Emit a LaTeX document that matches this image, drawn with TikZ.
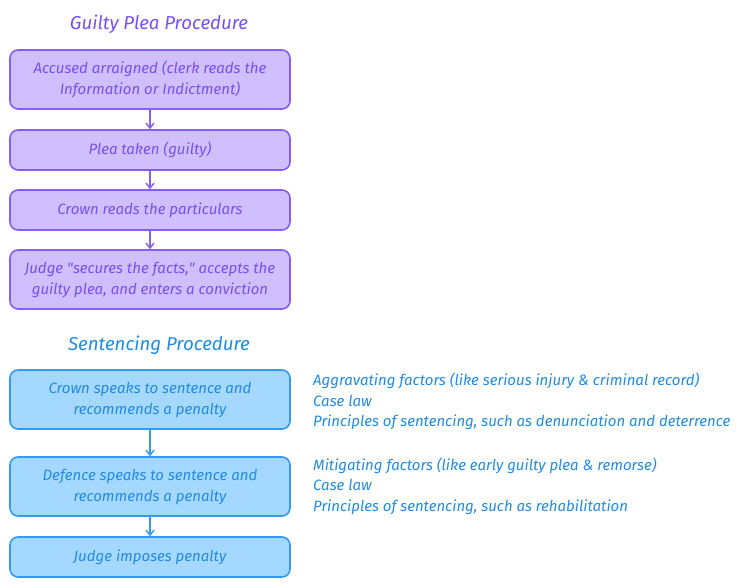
\documentclass[tikz,border=0pt]{standalone}
\usepackage{fontspec}
\setmainfont{Fira Sans}
\usetikzlibrary{arrows.meta}

\definecolor{plfill}{HTML}{D0BFFF}
\definecolor{plline}{HTML}{845EF7}
\definecolor{pltext}{HTML}{7950F2}
\definecolor{snfill}{HTML}{A5D8FF}
\definecolor{snline}{HTML}{339AF0}
\definecolor{sntext}{HTML}{228BE6}

\tikzset{
  stage/.style={draw, line width=1.6pt, rounded corners=8pt, minimum width=280pt,
    align=center, font=\itshape\fontsize{15}{21}\selectfont},
  plea/.style={stage, fill=plfill, draw=plline, text=pltext},
  sent/.style={stage, fill=snfill, draw=snline, text=sntext},
  heading/.style={font=\itshape\fontsize{18.7}{22}\selectfont},
  notes/.style={anchor=west, align=left, inner xsep=0pt, text=sntext, font=\itshape\fontsize{15}{20.5}\selectfont},
  flow/.style={-{Straight Barb[length=5pt,width=8pt]}, line width=1.4pt},
}

\begin{document}
\begin{tikzpicture}[x=1pt,y=-1pt]
  \useasboundingbox (0,0) rectangle (743,587);

  % guilty plea
  \node[heading, text=pltext] (pleatitle) at (159,24.5) {Guilty Plea Procedure};
  \node[plea, minimum height=59pt] (arraign) at (150,79.5) {Accused arraigned (clerk reads the\\Information or Indictment)};
  \node[plea, minimum height=40pt] (plea) at (150,150) {Plea taken (guilty)};
  \node[plea, minimum height=40pt] (particulars) at (150,210) {Crown reads the particulars};
  \node[plea, minimum height=59pt] (conviction) at (150,279.5) {Judge \textquotedbl secures the facts,\textquotedbl{} accepts the\\guilty plea, and enters a conviction};

  \draw[flow, plline] (arraign) -- (plea);
  \draw[flow, plline] (plea) -- (particulars);
  \draw[flow, plline] (particulars) -- (conviction);

  % sentencing
  \node[heading, text=sntext] (senttitle) at (159,345.5) {Sentencing Procedure};
  \node[sent, minimum height=59pt] (crown) at (150,399.5) {Crown speaks to sentence and\\recommends a penalty};
  \node[sent, minimum height=59pt] (defence) at (150,486.5) {Defence speaks to sentence and\\recommends a penalty};
  \node[sent, minimum height=40pt] (penalty) at (150,557) {Judge imposes penalty};

  \draw[flow, snline] (crown) -- (defence);
  \draw[flow, snline] (defence) -- (penalty);

  \node[notes] (aggr) at (313,401.5) {Aggravating factors (like serious injury \& criminal record)\\Case law\\Principles of sentencing, such as denunciation and deterrence};
  \node[notes] (mitig) at (313,486) {Mitigating factors (like early guilty plea \& remorse)\\Case law\\Principles of sentencing, such as rehabilitation};
\end{tikzpicture}
\end{document}
